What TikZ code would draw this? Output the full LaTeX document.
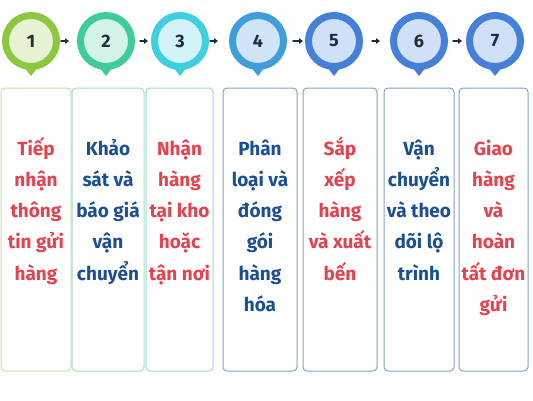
\documentclass[tikz,border=0pt]{standalone}
\usepackage{fontspec}
\setmainfont{Fira Sans}
\usepackage{tikz}
\usetikzlibrary{calc}
\usetikzlibrary{arrows.meta, positioning}

% colours of the steps
\definecolor{ringA}{HTML}{8DC63F}\definecolor{fillA}{HTML}{E6F2D0}
\definecolor{ringB}{HTML}{3FCB9B}\definecolor{fillB}{HTML}{D4F3E8}
\definecolor{ringC}{HTML}{3FCFE0}\definecolor{fillC}{HTML}{D3F3F8}
\definecolor{ringD}{HTML}{3E9DDB}\definecolor{fillD}{HTML}{CFE5F7}
\definecolor{ringE}{HTML}{4480D8}\definecolor{fillE}{HTML}{D0E0F6}
\definecolor{edgeA}{HTML}{C4E39C}
\definecolor{edgeB}{HTML}{A3DCCB}
\definecolor{edgeC}{HTML}{9FD8DE}
\definecolor{edgeD}{HTML}{7FA2C4}
\definecolor{txtred}{HTML}{E5424D}
\definecolor{txtblue}{HTML}{1B4F93}
\definecolor{numcol}{HTML}{1F2D3D}

\tikzset{
    stepdot/.style 2 args={circle, draw=#1, fill=#2, line width=7pt,
        minimum size=51pt, inner sep=0pt, text=numcol,
        font=\fontsize{18}{20}\selectfont\bfseries},
    stepbox/.style={draw=#1, line width=1pt, rounded corners=4pt,
        minimum height=283pt, inner sep=0pt},
    steptext/.style={anchor=base, align=center, inner sep=0pt, text=#1,
        font=\fontsize{19}{31.3}\selectfont\bfseries},
    flowarrow/.style={-{Triangle[length=4pt, width=5.5pt]}, line width=1.4pt,
        draw=numcol}
}

\begin{document}
\begin{tikzpicture}[x=1pt, y=-1pt, line cap=round, line join=round]
    \useasboundingbox (0,0) rectangle (533,400);

    % step circles
    \node[stepdot={ringA}{fillA}] (c1) at (31,41)  {1};
    \node[stepdot={ringB}{fillB}] (c2) at (106,41) {2};
    \node[stepdot={ringC}{fillC}] (c3) at (180,41) {3};
    \node[stepdot={ringD}{fillD}] (c4) at (258,41) {4};
    \node[stepdot={ringE}{fillE}] (c5) at (334,41) {5};
    \node[stepdot={ringE}{fillE}] (c6) at (419,41) {6};
    \node[stepdot={ringE}{fillE}] (c7) at (495,41) {7};

    % little tips under the circles
    \fill[ringA] ($(c1.south)+(-7,-3)$) -- ($(c1.south)+(7,-3)$) -- ($(c1.south)+(0,6)$) -- cycle;
    \fill[ringB] ($(c2.south)+(-7,-3)$) -- ($(c2.south)+(7,-3)$) -- ($(c2.south)+(0,6)$) -- cycle;
    \fill[ringC] ($(c3.south)+(-7,-3)$) -- ($(c3.south)+(7,-3)$) -- ($(c3.south)+(0,6)$) -- cycle;
    \fill[ringD] ($(c4.south)+(-7,-3)$) -- ($(c4.south)+(7,-3)$) -- ($(c4.south)+(0,6)$) -- cycle;
    \fill[ringE] ($(c5.south)+(-7,-3)$) -- ($(c5.south)+(7,-3)$) -- ($(c5.south)+(0,6)$) -- cycle;
    \fill[ringE] ($(c6.south)+(-7,-3)$) -- ($(c6.south)+(7,-3)$) -- ($(c6.south)+(0,6)$) -- cycle;
    \fill[ringE] ($(c7.south)+(-7,-3)$) -- ($(c7.south)+(7,-3)$) -- ($(c7.south)+(0,6)$) -- cycle;

    % arrows between the circles
    \draw[flowarrow, shorten <=1pt, shorten >=8pt]  (c1.east) -- (c2.west);
    \draw[flowarrow, shorten <=5pt, shorten >=3pt]  (c2.east) -- (c3.west);
    \draw[flowarrow, shorten <=1pt, shorten >=11pt] (c3.east) -- (c4.west);
    \draw[flowarrow, shorten <=6pt, shorten >=2pt]  (c4.east) -- (c5.west);
    \draw[flowarrow, shorten <=9pt, shorten >=10pt] (c5.east) -- (c6.west);
    \draw[flowarrow, shorten <=5pt, shorten >=4pt]  (c6.east) -- (c7.west);

    % boxes
    \node[stepbox=edgeA, minimum width=70pt] (b1) at (36,229.5)    {};
    \node[stepbox=edgeB, minimum width=72pt] (b2) at (108,229.5)   {};
    \node[stepbox=edgeC, minimum width=67pt] (b3) at (179.5,229.5) {};
    \node[stepbox=edgeD, minimum width=74pt] (b4) at (260,229.5)   {};
    \node[stepbox=edgeD, minimum width=74pt] (b5) at (340,229.5)   {};
    \node[stepbox=edgeD, minimum width=70pt] (b6) at (419,229.5)   {};
    \node[stepbox=edgeD, minimum width=69pt] (b7) at (493.5,229.5) {};

    % texts of the steps (base = last line)
    \node[steptext=txtred]  (t1) at (36,280.2)    {Tiếp\\nhận\\thông\\tin gửi\\hàng};
    \node[steptext=txtblue] (t2) at (108,280.2)   {Khảo\\sát và\\báo giá\\vận\\chuyển};
    \node[steptext=txtred]  (t3) at (179.5,280.2) {Nhận\\hàng\\tại kho\\hoặc\\tận nơi};
    \node[steptext=txtblue] (t4) at (260,311.5)   {Phân\\loại và\\đóng\\gói\\hàng\\hóa};
    \node[steptext=txtred]  (t5) at (340,280.2)   {Sắp\\xếp\\hàng\\và xuất\\bến};
    \node[steptext=txtblue] (t6) at (419,280.2)   {Vận\\chuyển\\và theo\\dõi lộ\\trình};
    \node[steptext=txtred]  (t7) at (493.5,311.5) {Giao\\hàng\\và\\hoàn\\tất đơn\\gửi};
\end{tikzpicture}
\end{document}
